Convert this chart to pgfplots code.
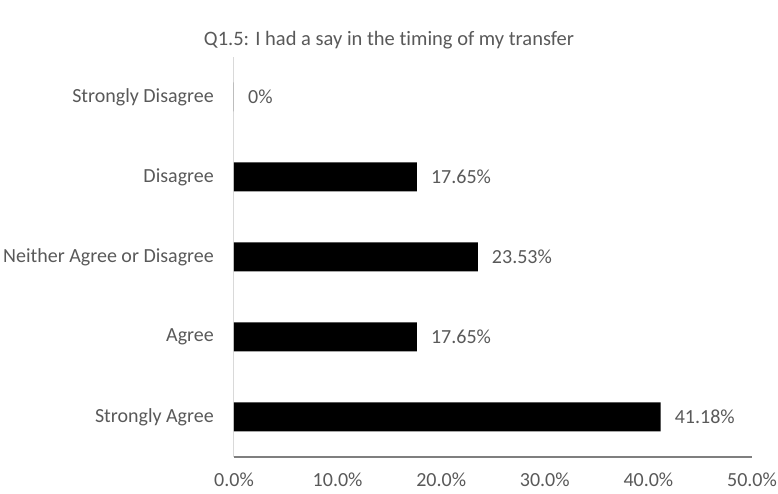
\documentclass[border=0pt]{standalone}
\usepackage{pgfplots}
\pgfplotsset{compat=1.18}
\usepackage{fontspec}
\setmainfont[Ligatures=NoCommon]{Carlito}
\definecolor{txt}{HTML}{595959}
\definecolor{yaxis}{HTML}{D9D9D9}
\definecolor{xaxis}{HTML}{7F7F7F}
\begin{document}
\begin{tikzpicture}
\useasboundingbox (-234pt,-37pt) rectangle (544pt,457pt);
\begin{axis}[
	at={(0,0)}, anchor=south west,
	scale only axis,
	width=518pt, height=400pt,
	xbar, bar width=29pt,
	xmin=0, xmax=50,
	ymin=-0.5, ymax=4.5,
	xtick={0,10,...,50},
	ytick={0,1,2,3,4},
	yticklabels={Strongly Agree,Agree,Neither Agree or Disagree,Disagree,Strongly Disagree},
	xticklabel={\pgfmathprintnumber[fixed,fixed zerofill,precision=1]{\tick}\%},
	/pgf/number format/assume math mode=true,
	axis lines*=left,
	x axis line style={color=xaxis, line width=1.2pt},
	y axis line style={color=yaxis, line width=1pt},
	major tick length=0pt,
	tick label style={font=\fontsize{20}{22}\selectfont, text=txt},
	x tick label style={anchor=north, inner sep=0pt, yshift=-16pt},
	y tick label style={anchor=east, inner sep=0pt, xshift=-20pt},
	point meta=explicit symbolic,
	nodes near coords,
	nodes near coords style={font=\fontsize{20}{22}\selectfont, text=txt, anchor=west, inner sep=0pt, xshift=14pt},
	clip=false,
]
\addplot[fill=black, draw=none] coordinates {
	(41.18,0) [41.18\%]
	(17.65,1) [17.65\%]
	(23.53,2) [23.53\%]
	(17.65,3) [17.65\%]
	(0,4) [0\%]
};
\end{axis}
\node[text=txt, font=\fontsize{20.5}{24}\selectfont] at (155pt,417pt) {Q1.5: I had a say in the timing of my transfer};
\end{tikzpicture}
\end{document}
